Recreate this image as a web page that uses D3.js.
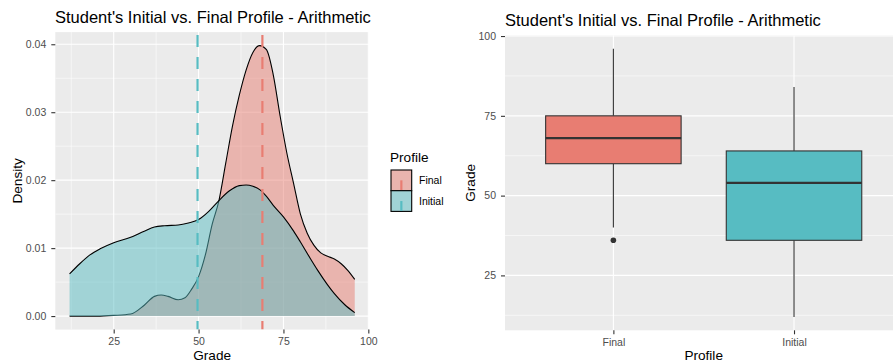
<!DOCTYPE html>
<html lang="en">
<head>
    <meta charset="UTF-8">
    <title>Student's Initial vs. Final Profile - Arithmetic</title>
    <script src="https://d3js.org/d3.v7.min.js"></script>
    <style>
        body { margin: 0; background: #fff; }
        text { font-family: "Liberation Sans", Arial, sans-serif; }
    </style>
</head>
<body>
    <svg id="chart" width="893" height="364"></svg>

    <script>
        // ---- data ----
        const profiles = ["Final", "Initial"];

        // density curves (grade, density)
        const finalGrades = [12, 20, 25, 30, 34, 37, 39, 41, 44, 46, 48, 50, 52, 54, 56, 58, 60, 62, 64, 66, 68, 70, 72, 74, 76, 78, 80, 82, 84, 86, 88, 90, 92, 94, 96];
        const finalDensity = [0.0000, 0.0000, 0.0001, 0.0003, 0.0016, 0.0029, 0.0031, 0.0029, 0.0024, 0.0027, 0.0040, 0.0058, 0.0090, 0.0135, 0.0170, 0.0225, 0.0280, 0.0325, 0.0362, 0.0388, 0.0398, 0.0392, 0.0355, 0.0295, 0.0240, 0.0195, 0.0150, 0.0122, 0.0104, 0.0093, 0.0088, 0.0084, 0.0077, 0.0067, 0.0054];
        const initialGrades = [12, 15, 18, 21, 25, 30, 34, 37, 40, 44, 47, 50, 53, 56, 59, 62, 64, 66, 68, 70, 72, 75, 78, 80, 83, 85, 88, 90, 93, 96];
        const initialDensity = [0.0062, 0.0077, 0.0090, 0.0099, 0.0108, 0.0116, 0.0125, 0.0131, 0.0133, 0.0134, 0.0137, 0.0142, 0.0154, 0.0170, 0.0184, 0.0192, 0.0193, 0.0191, 0.0186, 0.0176, 0.0163, 0.0146, 0.0125, 0.0109, 0.0084, 0.0068, 0.0046, 0.0033, 0.0017, 0.0005];

        // group means (dashed lines)
        const profileMeans = [68.8, 49.7];

        // box plot stats, same order as profiles
        const lowerWhisker = [40, 12];
        const q1 = [60, 36];
        const medians = [68, 54];
        const q3 = [75, 64];
        const upperWhisker = [96, 84];
        const outliers = [[36], []];

        // tick labels
        const gradeTicks = [25, 50, 75, 100];
        const gradeMinor = [12.5, 37.5, 62.5, 87.5];
        const densityTicks = [0, 0.01, 0.02, 0.03, 0.04];
        const densityMinor = [0.005, 0.015, 0.025, 0.035];

        const colors = ["#E87D72", "#57BCC2"];
        const title = "Student's Initial vs. Final Profile - Arithmetic";

        const svg = d3.select("#chart");
        const color = d3.scaleOrdinal().domain(profiles).range(colors);

        // ---------- left: density ----------
        const L = { left: 55.3, right: 369, top: 32.1, bottom: 329.6 };
        const x1 = d3.scaleLinear().domain([7.8, 100.2]).range([L.left, L.right]);
        const y1 = d3.scaleLinear().domain([-0.00199, 0.04179]).range([L.bottom, L.top]);

        svg.append("rect")
            .attr("x", L.left).attr("y", L.top)
            .attr("width", L.right - L.left).attr("height", L.bottom - L.top)
            .attr("fill", "#EBEBEB");

        svg.append("clipPath").attr("id", "clipL")
            .append("rect")
            .attr("x", L.left).attr("y", L.top)
            .attr("width", L.right - L.left).attr("height", L.bottom - L.top);

        const gL = svg.append("g").attr("clip-path", "url(#clipL)");

        // grid
        gL.selectAll(".vminor").data(gradeMinor).enter().append("line")
            .attr("x1", d => x1(d)).attr("x2", d => x1(d))
            .attr("y1", L.top).attr("y2", L.bottom)
            .attr("stroke", "#fff").attr("stroke-width", 0.55);
        gL.selectAll(".hminor").data(densityMinor).enter().append("line")
            .attr("y1", d => y1(d)).attr("y2", d => y1(d))
            .attr("x1", L.left).attr("x2", L.right)
            .attr("stroke", "#fff").attr("stroke-width", 0.55);
        gL.selectAll(".vmajor").data(gradeTicks).enter().append("line")
            .attr("x1", d => x1(d)).attr("x2", d => x1(d))
            .attr("y1", L.top).attr("y2", L.bottom)
            .attr("stroke", "#fff").attr("stroke-width", 1.1);
        gL.selectAll(".hmajor").data(densityTicks).enter().append("line")
            .attr("y1", d => y1(d)).attr("y2", d => y1(d))
            .attr("x1", L.left).attr("x2", L.right)
            .attr("stroke", "#fff").attr("stroke-width", 1.1);

        const curves = [
            { name: "Final", pts: finalGrades.map((g, i) => [g, finalDensity[i]]) },
            { name: "Initial", pts: initialGrades.map((g, i) => [g, initialDensity[i]]) }
        ];

        const area = d3.area()
            .x(d => x1(d[0])).y0(y1(0)).y1(d => y1(d[1]))
            .curve(d3.curveMonotoneX);
        const line = d3.line()
            .x(d => x1(d[0])).y(d => y1(d[1]))
            .curve(d3.curveMonotoneX);

        curves.forEach(c => {
            gL.append("path").datum(c.pts)
                .attr("d", area)
                .attr("fill", color(c.name)).attr("fill-opacity", 0.5);
            gL.append("path").datum(c.pts)
                .attr("d", line)
                .attr("fill", "none").attr("stroke", "#000").attr("stroke-width", 1.1);
        });

        // mean lines
        gL.selectAll(".mean").data(profiles).enter().append("line")
            .attr("x1", (d, i) => x1(profileMeans[i])).attr("x2", (d, i) => x1(profileMeans[i]))
            .attr("y1", L.top + 3).attr("y2", L.bottom)
            .attr("stroke", d => color(d)).attr("stroke-width", 2.2)
            .attr("stroke-dasharray", "12,10");

        // axes
        const axL = svg.append("g")
            .attr("transform", `translate(${L.left},0)`)
            .call(d3.axisLeft(y1).tickValues(densityTicks).tickFormat(d3.format(".2f")).tickSize(4).tickPadding(5));
        const axB = svg.append("g")
            .attr("transform", `translate(0,${L.bottom})`)
            .call(d3.axisBottom(x1).tickValues(gradeTicks).tickSize(4).tickPadding(4));

        // ---------- right: boxplot ----------
        const R = { left: 505, right: 902.4, top: 35.4, bottom: 330.3 };
        const x2 = d3.scalePoint().domain(profiles).range([R.left, R.right]).padding(0.6);
        const y2 = d3.scaleLinear().domain([7.8, 100.2]).range([R.bottom, R.top]);
        const boxW = x2.step() * 0.75;

        svg.append("rect")
            .attr("x", R.left).attr("y", R.top)
            .attr("width", R.right - R.left).attr("height", R.bottom - R.top)
            .attr("fill", "#EBEBEB");

        const gR = svg.append("g");
        gR.selectAll(".hminor").data(gradeMinor).enter().append("line")
            .attr("y1", d => y2(d)).attr("y2", d => y2(d))
            .attr("x1", R.left).attr("x2", R.right)
            .attr("stroke", "#fff").attr("stroke-width", 0.55);
        gR.selectAll(".hmajor").data(gradeTicks).enter().append("line")
            .attr("y1", d => y2(d)).attr("y2", d => y2(d))
            .attr("x1", R.left).attr("x2", R.right)
            .attr("stroke", "#fff").attr("stroke-width", 1.1);
        gR.selectAll(".vmajor").data(profiles).enter().append("line")
            .attr("x1", d => x2(d)).attr("x2", d => x2(d))
            .attr("y1", R.top).attr("y2", R.bottom)
            .attr("stroke", "#fff").attr("stroke-width", 1.1);

        const boxes = gR.selectAll(".box").data(profiles).enter().append("g");
        // whiskers
        boxes.append("line")
            .attr("x1", d => x2(d)).attr("x2", d => x2(d))
            .attr("y1", (d, i) => y2(upperWhisker[i])).attr("y2", (d, i) => y2(q3[i]))
            .attr("stroke", "#333").attr("stroke-width", 1.1);
        boxes.append("line")
            .attr("x1", d => x2(d)).attr("x2", d => x2(d))
            .attr("y1", (d, i) => y2(q1[i])).attr("y2", (d, i) => y2(lowerWhisker[i]))
            .attr("stroke", "#333").attr("stroke-width", 1.1);
        boxes.append("rect")
            .attr("x", d => x2(d) - boxW / 2).attr("width", boxW)
            .attr("y", (d, i) => y2(q3[i])).attr("height", (d, i) => y2(q1[i]) - y2(q3[i]))
            .attr("fill", d => color(d)).attr("stroke", "#333").attr("stroke-width", 1.1);
        boxes.append("line")
            .attr("x1", d => x2(d) - boxW / 2).attr("x2", d => x2(d) + boxW / 2)
            .attr("y1", (d, i) => y2(medians[i])).attr("y2", (d, i) => y2(medians[i]))
            .attr("stroke", "#333").attr("stroke-width", 2.3);
        boxes.each(function (d, i) {
            d3.select(this).selectAll("circle").data(outliers[i]).enter().append("circle")
                .attr("cx", x2(d)).attr("cy", v => y2(v)).attr("r", 2.8)
                .attr("fill", "#333");
        });

        const axR = svg.append("g")
            .attr("transform", `translate(${R.left},0)`)
            .call(d3.axisLeft(y2).tickValues(gradeTicks).tickSize(4).tickPadding(5));
        const axRB = svg.append("g")
            .attr("transform", `translate(0,${R.bottom})`)
            .call(d3.axisBottom(x2).tickSize(4).tickPadding(4));

        // axis styling like ggplot
        [axL, axB, axR, axRB].forEach(a => {
            a.select(".domain").remove();
            a.selectAll(".tick line").attr("stroke", "#333").attr("stroke-width", 1.1);
            a.selectAll(".tick text").attr("fill", "#4D4D4D").style("font-size", "10.5px")
                .style("font-family", "'Liberation Sans', Arial, sans-serif");
        });

        // ---------- titles ----------
        svg.append("text").attr("x", 55).attr("y", 23)
            .style("font-size", "16.5px").attr("fill", "#000").text(title);
        svg.append("text").attr("x", 505).attr("y", 26)
            .style("font-size", "16.5px").attr("fill", "#000").text(title);

        svg.append("text").attr("x", (L.left + L.right) / 2).attr("y", 360)
            .attr("text-anchor", "middle").style("font-size", "13.6px").text("Grade");
        svg.append("text").attr("transform", `translate(22,${(L.top + L.bottom) / 2}) rotate(-90)`)
            .attr("text-anchor", "middle").style("font-size", "13.6px").text("Density");
        svg.append("text").attr("x", (R.left + R.right) / 2).attr("y", 360)
            .attr("text-anchor", "middle").style("font-size", "13.6px").text("Profile");
        svg.append("text").attr("transform", `translate(475,${(R.top + R.bottom) / 2}) rotate(-90)`)
            .attr("text-anchor", "middle").style("font-size", "13.6px").text("Grade");

        // ---------- legend ----------
        const legend = svg.append("g").attr("transform", "translate(391,0)");
        legend.append("text").attr("x", -1).attr("y", 161.5)
            .style("font-size", "13.6px").text("Profile");
        const keySize = 20.7;
        const keys = legend.selectAll(".key").data(profiles).enter().append("g")
            .attr("transform", (d, i) => `translate(0,${170 + i * keySize})`);
        keys.append("rect").attr("width", keySize).attr("height", keySize)
            .attr("fill", "#EBEBEB");
        keys.append("rect").attr("width", keySize).attr("height", keySize)
            .attr("fill", d => color(d)).attr("fill-opacity", 0.5)
            .attr("stroke", "#000").attr("stroke-width", 1.1);
        keys.append("line")
            .attr("x1", keySize / 2).attr("x2", keySize / 2)
            .attr("y1", keySize / 2).attr("y2", keySize - 0.5)
            .attr("stroke", d => color(d)).attr("stroke-width", 2.2);
        keys.append("text").attr("x", 28).attr("y", keySize / 2 + 4)
            .style("font-size", "10.5px").attr("fill", "#000").text(d => d);
    </script>
</body>
</html>
